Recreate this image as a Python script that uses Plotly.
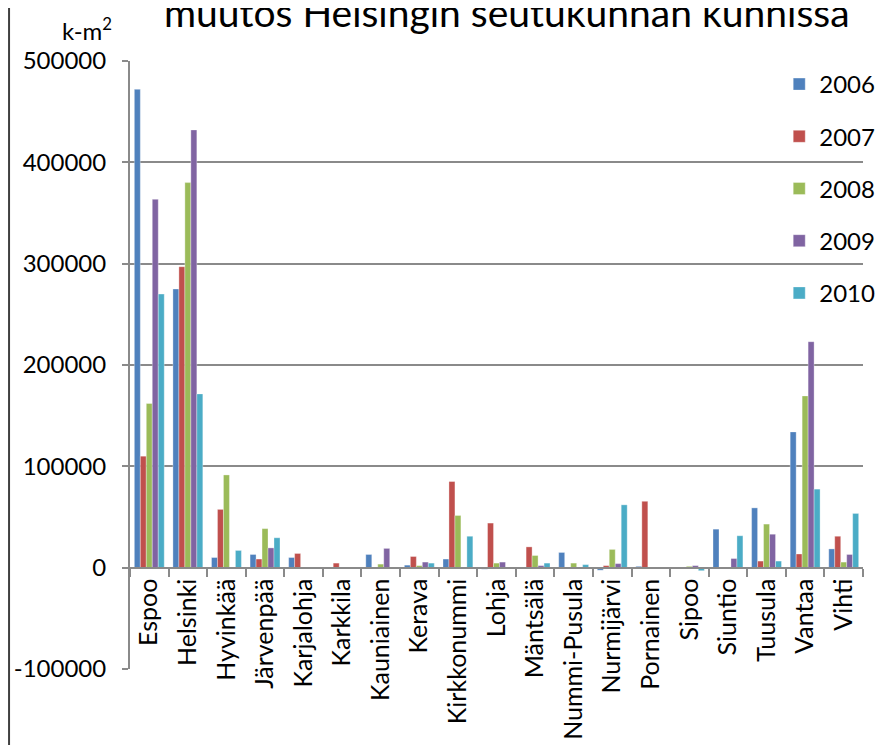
import plotly.graph_objects as go

categories = ["Espoo", "Helsinki", "Hyvinkää", "Järvenpää", "Karjalohja", "Karkkila",
              "Kauniainen", "Kerava", "Kirkkonummi", "Lohja", "Mäntsälä", "Nummi-Pusula",
              "Nurmijärvi", "Pornainen", "Sipoo", "Siuntio", "Tuusula", "Vantaa", "Vihti"]

years = ["2006", "2007", "2008", "2009", "2010"]

v2006 = [472000, 275000, 10000, 13000, 10000, None, 13000, 2500, 8500, -1500, None, 15000,
         -2500, 1300, None, 38000, 59000, 134000, 18500]
v2007 = [110000, 297000, 57500, 8500, 14000, 4500, None, 11000, 85000, 44000, 20500, None,
         2000, 65500, None, None, 6500, 13500, 31000]
v2008 = [162000, 380000, 91500, 38500, None, None, 3500, 2000, 51500, 4500, 12000, 4500,
         18000, None, 1300, None, 43000, 169500, 5500]
v2009 = [363500, 432000, None, 19500, None, None, 19000, 5500, None, 5500, 2000, None,
         4000, None, 2000, 9000, 33000, 223000, 13000]
v2010 = [270000, 171500, 17000, 29500, None, None, None, 4500, 31000, None, 4500, 3000,
         62000, None, -3000, 31500, 6500, 77500, 53500]

series = [v2006, v2007, v2008, v2009, v2010]
colors = ["#4F81BD", "#C0504D", "#9BBB59", "#8064A2", "#4BACC6"]

y_ticks = [-100000, 0, 100000, 200000, 300000, 400000, 500000]
y_ticktext = [str(t) for t in y_ticks]

title_text = "muutos Helsingin seutukunnan kunnissa"
unit_text = "k-m<sup>2</sup>"

FONT = "Lato"
GRID = "#8a8a8a"

fig = go.Figure()
for name, vals, col in zip(years, series, colors):
    fig.add_trace(go.Bar(
        x=categories, y=vals, name=name, legendgroup=name,
        marker=dict(color=col, line=dict(width=0.6, color="rgba(255,255,255,0.55)")),
    ))

OFF = 8  # page body offset
W, H = 884 - OFF, 745 - OFF
ml, mt = 130 - OFF, 61 - OFF
pw, ph = 733.3, 608
mr = W - ml - pw
mb = H - mt - ph

def px_to_paper_x(sx):
    return (sx - OFF - ml) / pw

def px_to_paper_y(sy):
    return (H - mb - (sy - OFF)) / ph

fig.update_layout(
    width=W, height=H,
    margin=dict(l=ml, r=mr, t=mt, b=mb, autoexpand=False),
    paper_bgcolor="white", plot_bgcolor="white",
    font=dict(family=FONT, size=24, color="black"),
    barmode="group", bargap=0.225, bargroupgap=0,
    showlegend=True,
    legend=dict(
        x=px_to_paper_x(779.5), y=px_to_paper_y(62), xanchor="left", yanchor="top",
        bgcolor="rgba(0,0,0,0)", font=dict(family=FONT, size=24, color="black"),
        tracegroupgap=18, itemwidth=30, traceorder="grouped",
    ),
    xaxis=dict(
        type="category", anchor="free", position=1/6, domain=[0, 1],
        showline=True, linecolor=GRID, linewidth=2,
        ticks="outside", tickson="boundaries", ticklen=8, tickcolor=GRID, tickwidth=2,
        tickangle=-90, tickfont=dict(family=FONT, size=25, color="black"),
        showgrid=False, automargin=False,
    ),
    yaxis=dict(
        range=[-100000, 500000], tickvals=y_ticks, ticktext=y_ticktext,
        showgrid=True, gridcolor=GRID, gridwidth=1.5,
        showline=True, linecolor=GRID, linewidth=2,
        ticks="outside", ticklen=6, tickcolor=GRID, tickwidth=2,
        zeroline=False, ticklabelstandoff=11,
        tickfont=dict(family=FONT, size=24, color="black"), automargin=False,
    ),
    annotations=[
        dict(text=title_text, xref="paper", yref="paper",
             x=px_to_paper_x(507.5), y=px_to_paper_y(37), xanchor="center", yanchor="bottom",
             showarrow=False, font=dict(family=FONT, size=39, color="black")),
        dict(text=unit_text, xref="paper", yref="paper",
             x=px_to_paper_x(87), y=px_to_paper_y(47), xanchor="center", yanchor="bottom",
             showarrow=False, font=dict(family=FONT, size=24, color="black")),
    ],
    shapes=[
        dict(type="line", xref="paper", yref="paper",
             x0=px_to_paper_x(9), x1=px_to_paper_x(9), y0=-0.3, y1=1.3,
             line=dict(color="#404040", width=2)),
    ],
)

fig.write_html("out.html")
